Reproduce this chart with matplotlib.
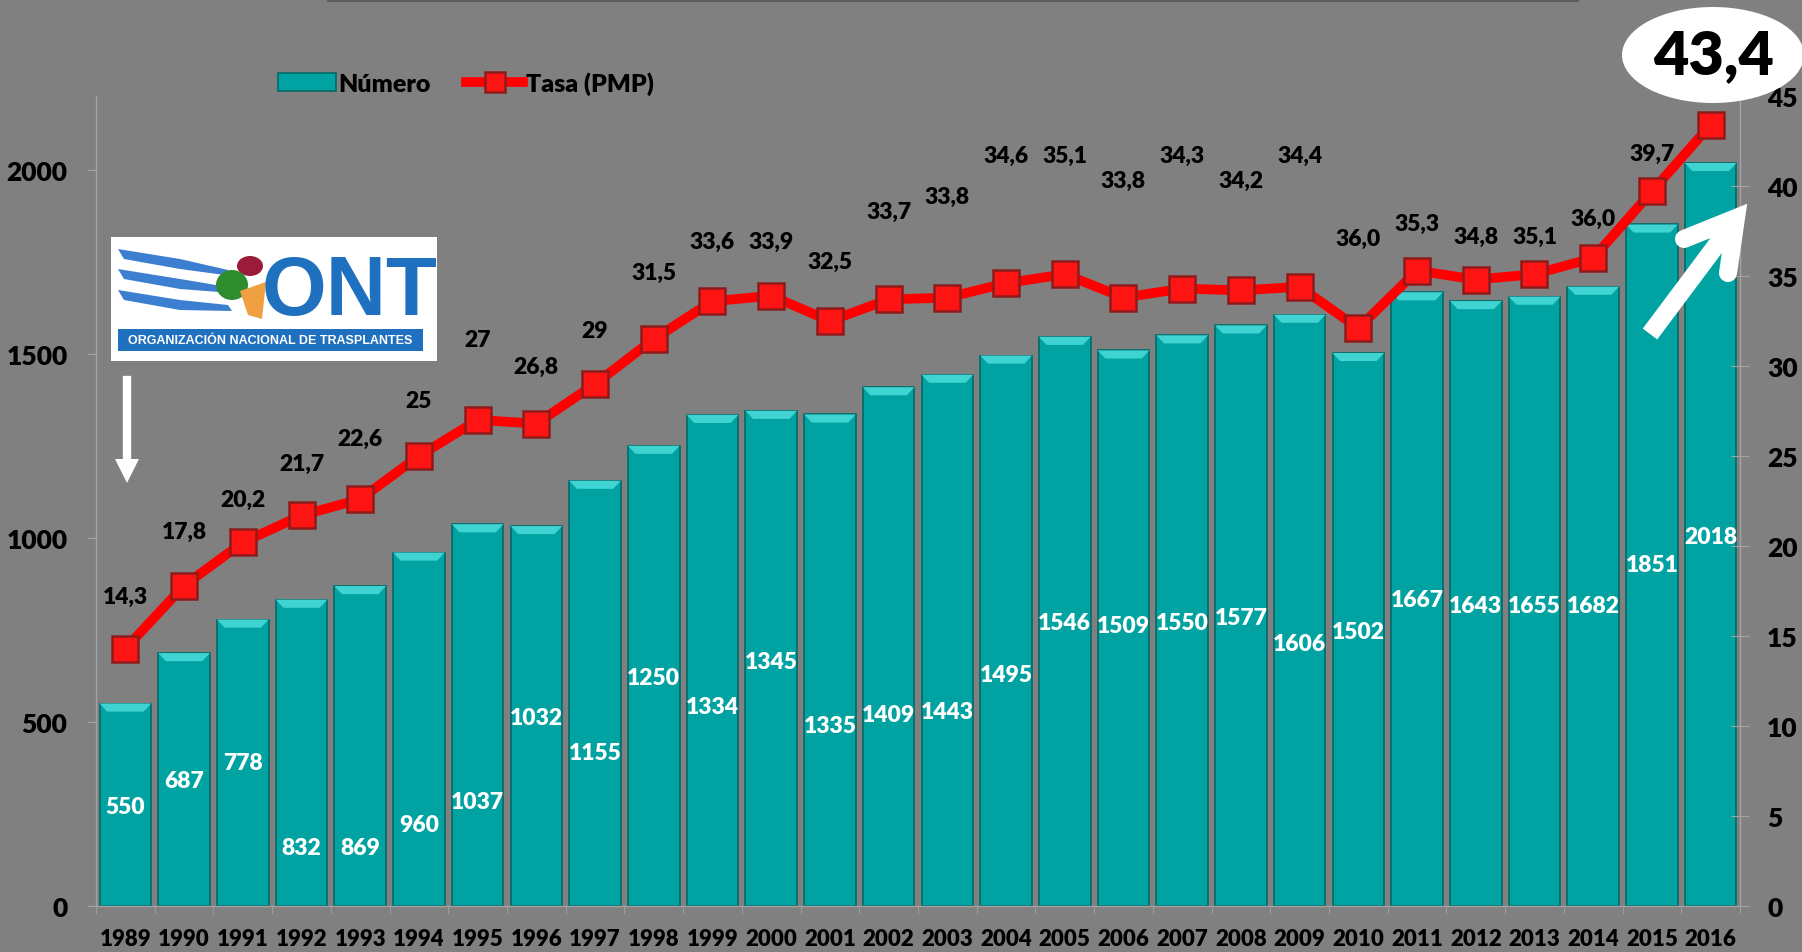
import numpy as np
import matplotlib
matplotlib.use('Agg')
import matplotlib.pyplot as plt
from matplotlib.patches import Rectangle, Ellipse, Polygon
from matplotlib.lines import Line2D
from matplotlib.transforms import IdentityTransform

plt.rcParams['font.family'] = ['Lato', 'DejaVu Sans']
plt.rcParams['font.weight'] = 'heavy'

# data
years = ['1989', '1990', '1991', '1992', '1993', '1994', '1995', '1996', '1997', '1998',
         '1999', '2000', '2001', '2002', '2003', '2004', '2005', '2006', '2007', '2008',
         '2009', '2010', '2011', '2012', '2013', '2014', '2015', '2016']
numero = [550, 687, 778, 832, 869, 960, 1037, 1032, 1155, 1250, 1334, 1345, 1335, 1409,
          1443, 1495, 1546, 1509, 1550, 1577, 1606, 1502, 1667, 1643, 1655, 1682, 1851, 2018]
tasa = [14.3, 17.8, 20.2, 21.7, 22.6, 25.0, 27.0, 26.8, 29.0, 31.5, 33.6, 33.9, 32.5, 33.7,
        33.8, 34.6, 35.1, 33.8, 34.3, 34.2, 34.4, 32.1, 35.3, 34.8, 35.1, 36.0, 39.7, 43.4]
tasa_labels = ['14,3', '17,8', '20,2', '21,7', '22,6', '25', '27', '26,8', '29', '31,5',
               '33,6', '33,9', '32,5', '33,7', '33,8', '34,6', '35,1', '33,8', '34,3', '34,2',
               '34,4', '36,0', '35,3', '34,8', '35,1', '36,0', '39,7', '']
highlight = '43,4'

# where the labels sit (as placed by hand in the original)
numero_label_y = [271, 342, 391, 160, 160, 222, 285, 513, 418, 621, 543, 665, 491, 521,
                  529, 630, 771, 762, 771, 784, 714, 746, 833, 817, 817, 817, 928, 1004]
tasa_label_y = [17.2, 20.8, 22.6, 24.6, 26.0, 28.1, 31.5, 30.0, 32.0, 35.2, 36.9, 36.9,
                35.8, 38.6, 39.4, 41.7, 41.7, 40.3, 41.7, 40.3, 41.7, 37.1, 37.9, 37.2,
                37.2, 38.2, 41.8, 0]

W, H = 1802, 953
BG = '#808080'
TEAL = '#00a3a2'
AXC = '#a3a3a3'

fig = plt.figure(figsize=(W / 100, H / 100), dpi=100, facecolor=BG)
ax = fig.add_axes([96 / W, 1 - 907 / H, (1740 - 96) / W, (907 - 97) / H])
ax.set_facecolor(BG)
x = np.arange(len(years))

bw = 0.88
bars = ax.bar(x, numero, width=bw, color=TEAL, edgecolor='#006a69', linewidth=1.2, zorder=2,
              label='Número')
# bevel on top of each bar
for xi, v in zip(x, numero):
    ax.add_patch(Polygon([[xi - bw / 2, v], [xi + bw / 2, v], [xi + bw / 2 - 0.13, v - 22],
                          [xi - bw / 2 + 0.13, v - 22]], closed=True, facecolor='#3fd3d2',
                         edgecolor='none', zorder=3))
for xi, v, ly in zip(x, numero, numero_label_y):
    ax.text(xi, ly, str(v), color='white', fontsize=16.5,
            ha='center', va='center', zorder=4)

ax.set_xlim(-0.5, len(years) - 0.5)
ax.set_ylim(0, 2200)
ax.set_yticks([0, 500, 1000, 1500, 2000])
ax.set_xticks(x)
ax.set_xticklabels(years, fontsize=16)
ax.set_xticks(np.arange(len(years) + 1) - 0.5, minor=True)
ax.tick_params(axis='x', which='major', length=0, pad=16, colors='black')
ax.tick_params(axis='x', which='minor', length=6, color=AXC, direction='out')
ax.tick_params(axis='y', length=6.5, color=AXC, pad=14, labelsize=19)
ax.spines['top'].set_visible(False)
for s in ['left', 'bottom', 'right']:
    ax.spines[s].set_color(AXC)
    ax.spines[s].set_linewidth(1)

ax2 = ax.twinx()
ax2.plot(x, tasa, color='#ff0000', lw=7, marker='s', markersize=19,
         markerfacecolor='#ff1414', markeredgecolor='#8e1b1b', markeredgewidth=1.8,
         zorder=5, label='Tasa (PMP)')
for xi, ly, t in zip(x, tasa_label_y, tasa_labels):
    if t:
        ax2.text(xi, ly, t, color='black', fontsize=16.5, ha='center', va='center', zorder=6)
ax2.set_ylim(0, 45)
ax2.set_yticks(range(0, 50, 5))
ax2.tick_params(axis='y', length=13, direction='inout', color=AXC, pad=13, labelsize=19)
for s in ['top', 'left', 'bottom']:
    ax2.spines[s].set_visible(False)
ax2.spines['right'].set_color(AXC)

# legend
h1, l1 = ax.get_legend_handles_labels()
h2, l2 = ax2.get_legend_handles_labels()
leg = fig.legend(h1 + h2, l1 + l2, loc='center', bbox_to_anchor=(466 / W, 1 - 84 / H),
                 ncol=2, frameon=False, handlelength=2.3, handletextpad=0.1,
                 columnspacing=1.4, markerscale=0.75, prop={'weight': 'heavy', 'size': 18})


def px(xp, yp):
    return (xp, H - yp)


ident = IdentityTransform()

# shadow of a title box cut off at the top
fig.add_artist(Rectangle(px(327, 3), 1252, 3, transform=ident, facecolor='#5c5c5c',
                         edgecolor='none'))

# highlighted last value
fig.add_artist(Ellipse(px(1713, 56), 182, 96, transform=ident, facecolor='white',
                       edgecolor='none'))
fig.text(1714 / W, 1 - 56 / H, highlight, fontsize=44, color='black',
         ha='center', va='center')

# big white arrow pointing up-right
fig.add_artist(Line2D([1650, 1733], [H - 335, H - 224], transform=ident, color='white',
                      lw=13, solid_capstyle='butt'))
fig.add_artist(Line2D([1684, 1736, 1728], [H - 240, H - 219, H - 274], transform=ident,
                      color='white', lw=13, solid_capstyle='round', solid_joinstyle='miter'))

# small white arrow pointing down
fig.add_artist(Line2D([127, 127], [H - 381, H - 462], transform=ident, color='white', lw=6))
fig.add_artist(Polygon([px(115, 460), px(139, 460), px(127, 484)], closed=True,
                       transform=ident, facecolor='white', edgecolor='none'))

# ONT logo
fig.add_artist(Rectangle(px(111, 362), 326, 124, transform=ident, facecolor='white',
                         edgecolor='none'))
blue = '#1f70bf'
fig.add_artist(Rectangle(px(118, 352), 305, 22, transform=ident, facecolor=blue,
                         edgecolor='none'))
fig.text(270 / W, 1 - 341 / H, 'ORGANIZACIÓN NACIONAL DE TRASPLANTES', color='white',
         fontsize=9, fontweight='bold', family=['Liberation Sans', 'DejaVu Sans'],
         ha='center', va='center')
fig.text(350 / W, 1 - 293 / H, 'ONT', color=blue, fontsize=60, fontweight='bold',
         family=['Liberation Sans Narrow', 'Liberation Sans', 'DejaVu Sans'],
         ha='center', va='center')
for y0, y1 in [(250, 275), (270, 292), (291, 310)]:
    fig.add_artist(Polygon([px(118, y0), px(180, y0 + 10), px(228, y1 - 4), px(232, y1 + 2),
                            px(180, y0 + 20), px(124, y0 + 10)], closed=True,
                           transform=ident, facecolor='#3c7fd0', edgecolor='none'))
fig.add_artist(Ellipse(px(250, 267), 26, 20, transform=ident, facecolor='#9b1b3a',
                       edgecolor='none'))
fig.add_artist(Ellipse(px(232, 286), 32, 30, transform=ident, facecolor='#2e8b2e',
                       edgecolor='none'))
fig.add_artist(Polygon([px(240, 292), px(266, 283), px(262, 320), px(248, 316)],
                       closed=True, transform=ident, facecolor='#f0a040', edgecolor='none'))

fig.savefig('out.png', dpi=100, facecolor=BG)
